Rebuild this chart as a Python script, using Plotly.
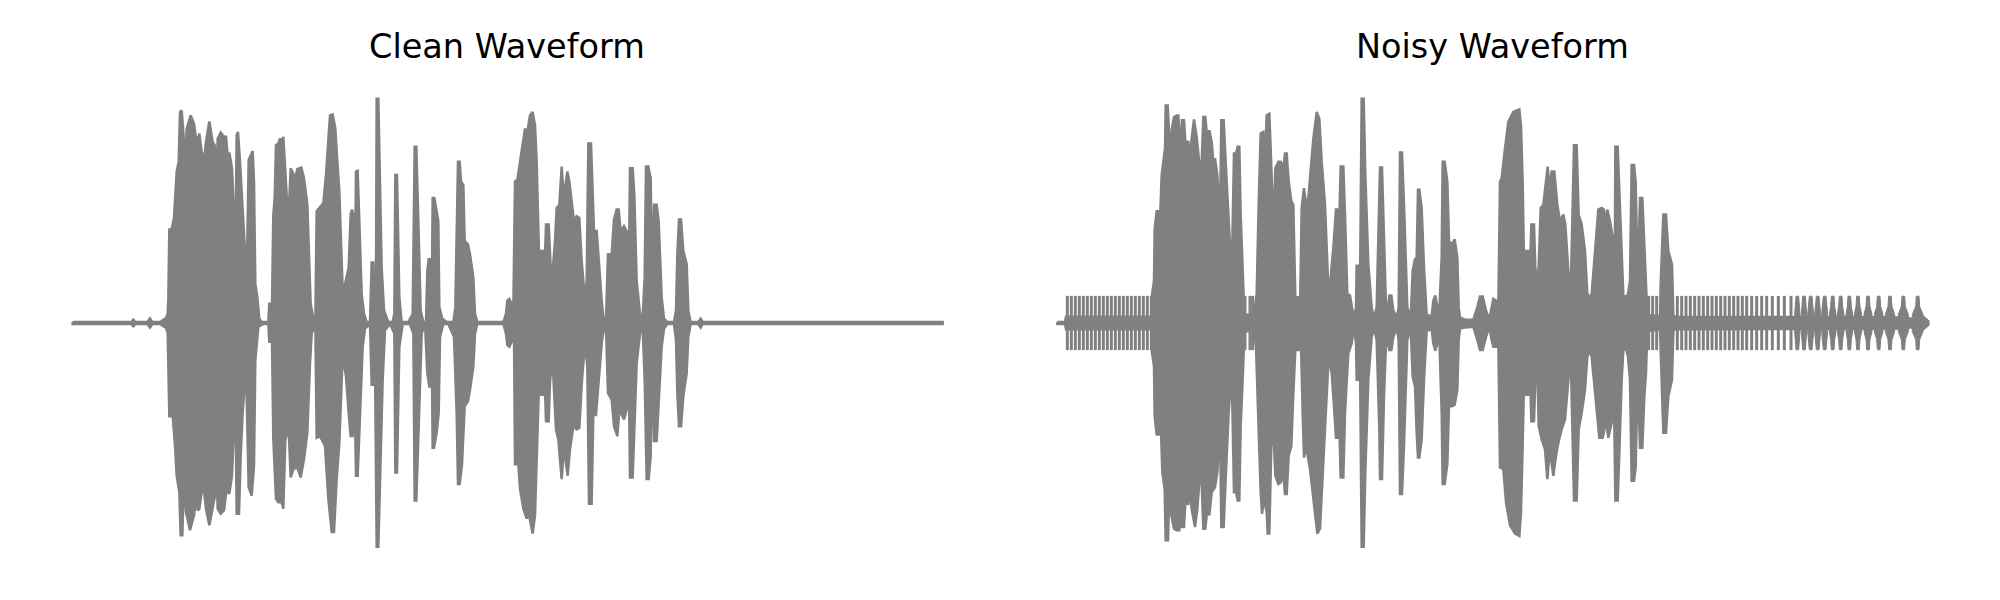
import plotly.graph_objects as go

GRAY = "#808080"
titles = ["Clean Waveform", "Noisy Waveform"]
LATE_OFFSET = 1230

# (time, amplitude) envelope readings
clean_up_a = [(38,3),(215,3),(220,12),(225,3),(262,3),(270,14),(277,3),(300,3),(318,15),(323,28),(325,73),(328,283),(335,283),(342,318),(350,458),(356,488),(360,638),(365,643),(370,578),(375,473),(380,588),(392,628),(402,603),(408,558),(413,553),(418,573),(425,518),(432,493),(438,548),(448,610),(458,548),(464,538),(470,453),(473,558),(482,576),(492,563),(498,563),(504,493),(508,516),(516,468),(522,328),(527,293),(530,568),(534,578),(540,488),(546,378),(560,128),(566,493),(570,503),(578,520),(582,428),(586,118),(592,78),(598,13),(605,3),(625,3),(628,58),(636,58),(640,328),(644,378),(648,538),(655,543),(660,558),(665,548),(670,563),(676,468),(682,353),(686,328),(692,468),(697,458),(706,438),(712,466),(724,470),(732,438),(742,358),(748,178),(752,58),(760,13),(766,3),(770,338),(778,348),(790,363),(798,448),(810,628),(818,631),(826,588),(832,488),(838,398),(848,98),(855,118),(866,168),(872,328),(876,343),(880,328),(885,168),(888,458),(893,460),(898,278),(905,88),(912,28),(920,3),(930,3),(935,183),(940,183),(944,3),(948,128),(950,678),(955,678),(960,458),(965,168),(972,38),(985,3),(998,3),(1003,28),(1006,448),(1011,448),(1018,78),(1025,3),(1045,3),(1058,28),(1064,533),(1069,533),(1075,308),(1082,38),(1090,3),(1098,3),(1102,158),(1106,193),(1112,193),(1116,158),(1118,378),(1123,378),(1130,338),(1135,308),(1138,48),(1147,13),(1160,3),(1180,3),(1186,48),(1190,258),(1194,488),(1199,488),(1203,428),(1210,418),(1214,248),(1224,238)]
clean_dn_a = [(38,3),(215,3),(220,12),(225,3),(262,3),(270,14),(277,3),(300,3),(318,15),(323,30),(325,72),(328,282),(338,282),(345,372),(350,462),(358,512),(362,642),(367,642),(372,472),(378,572),(390,627),(402,582),(408,532),(413,567),(418,562),(425,512),(432,507),(438,562),(448,612),(458,562),(465,522),(470,452),(473,562),(482,577),(492,567),(500,502),(508,517),(516,462),(522,312),(527,292),(530,577),(537,577),(542,402),(548,272),(558,132),(566,497),(575,522),(582,432),(586,112),(595,12),(610,3),(625,3),(628,57),(636,57),(640,352),(648,532),(655,542),(665,542),(670,562),(676,352),(686,322),(692,467),(700,442),(712,437),(722,467),(732,412),(742,332),(750,122),(755,32),(766,3),(770,347),(780,342),(795,372),(805,532),(815,632),(822,632),(830,472),(838,362),(848,97),(858,162),(866,272),(872,342),(878,342),(883,172),(888,462),(893,462),(900,272),(908,72),(915,17),(930,3),(935,187),(940,187),(944,3),(948,332),(950,677),(955,677),(960,462),(968,172),(975,22),(990,3),(1003,32),(1006,452),(1011,452),(1018,72),(1028,3),(1050,3),(1060,32),(1064,537),(1069,537),(1078,272),(1085,32),(1095,3),(1102,152),(1108,192),(1112,192),(1116,162),(1118,377),(1122,377),(1130,332),(1136,272),(1140,42),(1150,3),(1165,3),(1182,42),(1190,272),(1194,487),(1199,487),(1206,427),(1214,252),(1224,237)]
clean_up_b = [(0,208),(10,138),(15,28),(22,3),(35,3),(100,3),(108,28),(112,68),(118,73),(125,58),(130,38),(135,428),(142,433),(150,488),(155,528),(165,588),(172,578),(180,628),(188,638),(195,598),(200,488),(205,328),(209,128),(214,218),(220,218),(223,138),(228,298),(236,298),(240,188),(244,128),(248,158),(255,248),(260,348),(268,358),(275,473),(280,398),(285,408),(292,458),(298,428),(305,358),(312,308),(320,323),(328,318),(335,188),(345,68),(350,128),(355,543),(363,543),(367,398),(372,278),(380,278),(388,158),(395,68),(400,18),(408,13),(414,208),(425,208),(432,313),(440,343),(446,343),(452,278),(462,293),(470,278),(476,118),(480,468),(488,468),(493,388),(500,128),(510,28),(518,18),(524,138),(528,473),(535,473),(542,438),(547,88),(552,358),(560,358),(566,308),(575,78),(582,13),(592,3),(612,3),(618,38),(622,208),(627,313),(633,313),(640,218),(650,178),(655,38),(662,3),(675,3),(685,3),(692,13),(698,3),(710,3),(1360,3),(1375,5),(1390,3),(1418,3)]
clean_dn_b = [(0,202),(10,132),(15,32),(22,3),(35,3),(100,3),(108,32),(112,67),(118,72),(125,57),(132,32),(135,427),(145,427),(150,502),(160,562),(170,592),(175,572),(188,637),(195,582),(200,392),(205,272),(209,122),(214,217),(220,217),(223,142),(228,297),(236,297),(240,182),(244,127),(250,162),(258,322),(265,352),(275,472),(280,402),(285,402),(293,462),(300,382),(310,312),(320,322),(328,317),(336,172),(345,62),(352,132),(357,547),(365,547),(370,272),(378,277),(388,152),(396,52),(402,17),(408,17),(414,212),(425,232),(432,312),(442,342),(448,262),(462,292),(470,262),(476,122),(480,467),(488,467),(493,352),(500,122),(510,32),(518,17),(524,172),(530,472),(536,472),(542,402),(547,72),(552,357),(560,357),(566,262),(575,72),(582,17),(592,3),(612,3),(618,52),(622,212),(627,312),(633,312),(640,222),(650,152),(655,42),(662,3),(675,3),(685,3),(692,14),(698,3),(710,3),(1360,3),(1375,5),(1390,3),(1418,3)]

noisy_up_a = [(22,3),(45,3),(48,19),(305,19),(305,78),(312,128),(314,283),(320,338),(326,338),(330,308),(335,448),(345,528),(347,658),(353,658),(358,558),(362,478),(365,583),(372,623),(380,628),(385,628),(392,518),(396,613),(402,613),(406,548),(415,548),(420,503),(425,558),(432,616),(440,563),(447,493),(455,483),(460,623),(466,623),(472,558),(478,583),(485,548),(490,488),(495,498),(502,448),(510,308),(514,613),(521,613),(527,488),(534,348),(545,138),(552,513),(558,513),(563,533),(568,533),(572,328),(580,128),(583,25),(612,25),(616,68),(620,88),(626,358),(632,573),(640,578),(645,478),(650,628),(658,633),(662,528),(668,358),(672,328),(676,468),(685,488),(692,488),(700,468),(705,513),(710,513),(716,428),(724,368),(730,358),(736,78),(746,78),(750,38),(755,348),(762,408),(768,358),(775,378),(790,558),(800,638),(808,618),(815,488),(825,358),(835,103),(842,138),(850,228),(858,343),(862,343),(866,238),(872,473),(880,473),(885,328),(892,88),(900,83),(906,48),(912,11),(918,48),(920,173),(926,173),(930,108),(935,678),(941,678),(946,448),(955,178),(965,48),(972,13),(980,48),(988,348),(990,470),(996,470),(1002,228),(1008,48),(1014,48),(1018,83),(1024,83),(1030,38),(1040,17),(1046,48),(1050,516),(1056,516),(1062,358),(1072,48),(1082,13),(1088,158),(1095,193),(1100,198),(1104,403),(1108,403),(1115,348),(1122,168),(1130,25),(1145,20),(1150,68),(1156,83),(1162,48),(1168,38),(1175,198),(1178,488),(1184,488),(1192,428),(1197,248),(1206,238),(1214,253),(1222,198),(1226,48)]
noisy_dn_a = [(22,3),(45,3),(48,19),(305,19),(305,82),(312,132),(314,282),(320,337),(326,337),(332,292),(337,452),(344,502),(347,657),(354,657),(358,502),(362,572),(372,622),(380,627),(388,627),(392,522),(396,617),(402,617),(406,542),(415,547),(420,502),(425,562),(435,617),(442,562),(448,482),(455,482),(460,622),(466,622),(472,562),(478,582),(485,512),(495,497),(502,452),(510,302),(514,617),(521,617),(527,472),(536,272),(545,142),(552,512),(558,512),(563,537),(568,537),(572,312),(580,122),(583,25),(612,25),(618,72),(625,312),(632,512),(636,577),(642,532),(650,572),(653,637),(658,637),(664,372),(670,322),(676,462),(685,487),(692,482),(700,457),(705,517),(710,517),(716,402),(724,372),(730,212),(736,82),(746,82),(752,32),(758,272),(762,407),(768,372),(780,442),(795,572),(802,637),(810,622),(820,422),(830,222),(836,102),(845,152),(852,252),(858,347),(862,347),(866,232),(872,467),(880,467),(885,272),(895,92),(905,62),(912,11),(918,62),(920,172),(926,172),(930,112),(935,677),(941,677),(946,452),(955,172),(965,42),(972,14),(980,52),(988,322),(990,472),(996,472),(1002,222),(1008,62),(1014,62),(1018,82),(1024,82),(1030,42),(1040,14),(1046,52),(1050,517),(1056,517),(1062,372),(1072,52),(1082,14),(1088,162),(1095,192),(1100,332),(1104,407),(1108,407),(1115,352),(1122,172),(1130,24),(1145,19),(1150,62),(1156,84),(1162,62),(1168,42),(1175,272),(1178,487),(1184,487),(1192,427),(1197,252),(1206,252),(1214,247),(1222,202),(1226,52)]
noisy_up_b = [(0,17),(15,10),(40,10),(52,48),(60,80),(68,80),(78,38),(88,11),(95,48),(100,73),(108,68),(115,48),(120,428),(125,438),(135,528),(145,608),(160,638),(178,646),(183,598),(188,428),(193,128),(198,218),(205,218),(210,158),(214,298),(222,298),(226,168),(232,128),(236,168),(242,348),(250,358),(258,428),(263,473),(268,408),(275,458),(283,458),(292,358),(300,308),(310,328),(316,298),(325,158),(332,88),(342,538),(350,538),(356,328),(365,298),(375,218),(382,88),(390,78),(395,88),(403,188),(415,343),(425,348),(432,343),(438,288),(442,343),(450,308),(460,248),(464,78),(466,533),(473,533),(478,388),(485,208),(490,83),(498,78),(504,88),(510,128),(515,478),(522,478),(527,428),(533,128),(540,378),(547,378),(553,228),(558,128),(562,25),(600,19),(602,118),(610,328),(618,328),(625,218),(636,178),(640,25),(645,19),(1340,17),(1350,13),(1365,15),(1390,19),(1405,5)]
noisy_dn_b = [(0,17),(15,14),(40,11),(52,52),(60,82),(68,82),(78,42),(88,11),(95,52),(100,72),(108,72),(115,52),(120,437),(130,442),(138,542),(150,612),(165,637),(178,644),(183,572),(188,372),(193,132),(198,217),(205,217),(210,152),(214,297),(222,297),(226,172),(232,132),(236,312),(245,352),(255,382),(262,472),(268,402),(272,402),(280,462),(288,402),(295,362),(305,322),(315,292),(325,172),(332,92),(342,537),(350,537),(356,322),(365,272),(375,202),(382,102),(390,82),(395,102),(403,187),(412,272),(418,347),(428,347),(438,297),(445,347),(455,302),(462,232),(466,537),(473,537),(478,392),(485,172),(490,82),(498,77),(504,102),(510,172),(515,477),(522,477),(527,437),(533,152),(540,377),(547,377),(553,222),(558,152),(562,25),(600,19),(602,122),(610,332),(618,332),(625,222),(636,172),(640,25),(645,19),(1340,17),(1350,13),(1365,15),(1390,19),(1405,5)]

# comb bursts of the noisy signal
burst_a = [52,64,76,88,100,112,124,136,148,160,172,184,196,208,220,232,244,256,268,280,292,304,585,600,608]
burst_b = [566,578,590,652,665,678,691,704,717,730,743,756,769,782,795,808,821,834,847,860,875,890,905,920,937,955,973,993]
BURST_AMP = 82
# widening bursts at the end: time and half width at the foot
tail_t = [1012,1032,1052,1073,1094,1118,1142,1168,1194,1224,1256,1290,1330,1373]
tail_foot = [8,8,9,9,9,10,10,10,11,12,13,14,15,16]


def envelope(up_a, up_b, dn_a, dn_b):
    up = up_a + [(t + LATE_OFFSET, a) for t, a in up_b]
    dn = dn_a + [(t + LATE_OFFSET, a) for t, a in dn_b]
    xs = [t for t, _ in up] + [t for t, _ in reversed(dn)]
    ys = [a for _, a in up] + [-a for _, a in reversed(dn)]
    return xs + xs[:1], ys + ys[:1]


fig = go.Figure()

x, y = envelope(clean_up_a, clean_up_b, clean_dn_a, clean_dn_b)
fig.add_trace(go.Scatter(x=x, y=y, mode="lines", fill="toself", fillcolor=GRAY,
                         line=dict(color=GRAY, width=2.5), xaxis="x", yaxis="y", showlegend=False))

x, y = envelope(noisy_up_a, noisy_up_b, noisy_dn_a, noisy_dn_b)
fig.add_trace(go.Scatter(x=x, y=y, mode="lines", fill="toself", fillcolor=GRAY,
                         line=dict(color=GRAY, width=2.5), xaxis="x2", yaxis="y2", showlegend=False))

tx, ty = [], []
for t in burst_a + [b + LATE_OFFSET for b in burst_b]:
    tx += [t, t, None]
    ty += [BURST_AMP, -BURST_AMP, None]
fig.add_trace(go.Scatter(x=tx, y=ty, mode="lines", line=dict(color=GRAY, width=3),
                         xaxis="x2", yaxis="y2", showlegend=False))

px, py = [], []
for t, f in zip(tail_t, tail_foot):
    c = t + LATE_OFFSET
    px += [c - f, c - 6, c - 4, c + 4, c + 6, c + f, c + f, c + 6, c + 4, c - 4, c - 6, c - f, c - f, None]
    py += [26, 50, BURST_AMP - 1, BURST_AMP - 1, 50, 26, -26, -50, 1 - BURST_AMP, 1 - BURST_AMP, -50, -26, 26, None]
fig.add_trace(go.Scatter(x=px, y=py, mode="lines", fill="toself", fillcolor=GRAY,
                         line=dict(color=GRAY, width=1), xaxis="x2", yaxis="y2", showlegend=False))

W, H = 1984, 584
axis = dict(visible=False, range=[0, 2700], fixedrange=True)
yaxis = dict(visible=False, range=[-735, 735], fixedrange=True)
title_font = dict(family="DejaVu Sans", size=33.5, color="black")
fig.update_layout(
    width=W, height=H, margin=dict(l=0, r=0, t=0, b=0),
    paper_bgcolor="white", plot_bgcolor="white", showlegend=False,
    xaxis=dict(axis, domain=[52 / W, 952 / W]),
    xaxis2=dict(axis, domain=[1042 / W, 1942 / W]),
    yaxis=dict(yaxis, domain=[1 - 558 / H, 1 - 72 / H]),
    yaxis2=dict(yaxis, domain=[1 - 558 / H, 1 - 72 / H]),
    annotations=[
        dict(text=titles[0], x=499 / W, y=1 - 38 / H, xref="paper", yref="paper", showarrow=False,
             xanchor="center", yanchor="middle", font=title_font),
        dict(text=titles[1], x=1484 / W, y=1 - 38 / H, xref="paper", yref="paper", showarrow=False,
             xanchor="center", yanchor="middle", font=title_font),
    ],
)
fig.write_html("out.html", config={"displayModeBar": False})
